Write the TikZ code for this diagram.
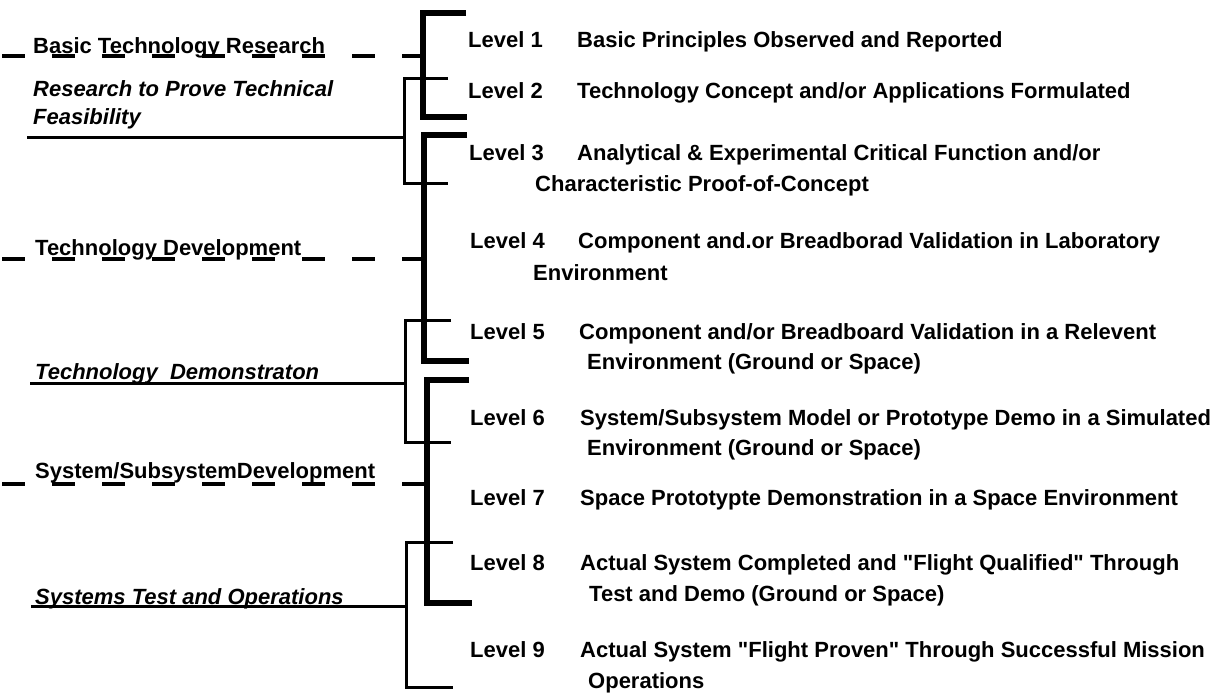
\documentclass[tikz,border=0pt]{standalone}
\usepackage{fontspec}
\setmainfont{Liberation Sans}[Ligatures=TeXOff]
\begin{document}
\begin{tikzpicture}[x=1pt,y=-1pt,
  txt/.style={font=\fontsize{22}{26}\selectfont\bfseries, inner sep=0pt, anchor=base west},
  itxt/.style={txt, font=\fontsize{22}{26}\selectfont\bfseries\itshape},
  heavy/.style={line width=6.5pt, line join=miter},
  light/.style={line width=3pt, line join=miter},
  dashline/.style={line width=4pt, dash pattern=on 23pt off 27pt}]
\useasboundingbox (0,0) rectangle (1226,697);

% ---- left labels ----
\node[txt] (basic) at (33,53) {Basic Technology Research};
\node[itxt] (prove1) at (33,96) {Research to Prove Technical};
\node[itxt] (prove2) at (33,124) {Feasibility};
\node[txt] (techdev) at (35,255) {Technology Development};
\node[itxt] (techdemo) at (35,379) {Technology\ \ Demonstraton};
\node[txt] (sysdev) at (35,478) {System/SubsystemDevelopment};
\node[itxt] (systest) at (35,604) {Systems Test and Operations};

% ---- bracket coordinates ----
\coordinate (a1) at (466,13);  \coordinate (a2) at (423,13);
\coordinate (a3) at (423,117); \coordinate (a4) at (467,117);
\coordinate (b1) at (448,78);  \coordinate (b2) at (404,78);
\coordinate (b3) at (404,183); \coordinate (b4) at (448,183);
\coordinate (bm) at (404,137); \coordinate (bs) at (27,137);
\coordinate (c1) at (467,135); \coordinate (c2) at (424,135);
\coordinate (c3) at (424,361); \coordinate (c4) at (469,361);
\coordinate (d1) at (451,320); \coordinate (d2) at (405,320);
\coordinate (d3) at (405,442); \coordinate (d4) at (451,442);
\coordinate (dm) at (405,383); \coordinate (ds) at (30,383);
\coordinate (e1) at (469,380); \coordinate (e2) at (427,380);
\coordinate (e3) at (427,603); \coordinate (e4) at (472,603);
\coordinate (f1) at (453,542); \coordinate (f2) at (406,542);
\coordinate (f3) at (406,687); \coordinate (f4) at (453,687);
\coordinate (fm) at (406,606); \coordinate (fs) at (31,606);
\coordinate (ga) at (2,56);  \coordinate (gae) at (423,56);
\coordinate (gc) at (2,259); \coordinate (gce) at (424,259);
\coordinate (ge) at (2,484); \coordinate (gee) at (427,484);

% ---- dashed phase lines ----
\draw[dashline] (ga) -- (gae);
\draw[dashline] (gc) -- (gce);
\draw[dashline] (ge) -- (gee);

% ---- thin brackets ----
\draw[light] (b1) -- (b2) -- (b3) -- (b4);
\draw[light] (bs) -- (bm);
\draw[light] (d1) -- (d2) -- (d3) -- (d4);
\draw[light] (ds) -- (dm);
\draw[light] (f1) -- (f2) -- (f3) -- (f4);
\draw[light] (fs) -- (fm);

% ---- heavy brackets ----
\draw[heavy] (a1) -- (a2) -- (a3) -- (a4);
\draw[heavy] (c1) -- (c2) -- (c3) -- (c4);
\draw[heavy] (e1) -- (e2) -- (e3) -- (e4);

% ---- levels ----
\node[txt] (l1) at (468,47) {Level 1};
\node[txt] (t1) at (577,47) {Basic Principles Observed and Reported};
\node[txt] (l2) at (468,98) {Level 2};
\node[txt] (t2) at (577,98) {Technology Concept and/or Applications Formulated};
\node[txt] (l3) at (469,160) {Level 3};
\node[txt] (t3) at (577,160) {Analytical \& Experimental Critical Function and/or};
\node[txt] (t3b) at (535,191) {Characteristic Proof-of-Concept};
\node[txt] (l4) at (470,248) {Level 4};
\node[txt] (t4) at (578,248) {Component and.or Breadborad Validation in Laboratory};
\node[txt] (t4b) at (533,280) {Environment};
\node[txt] (l5) at (470,339) {Level 5};
\node[txt] (t5) at (579,339) {Component and/or Breadboard Validation in a Relevent};
\node[txt] (t5b) at (587,369) {Environment (Ground or Space)};
\node[txt] (l6) at (470,425) {Level 6};
\node[txt] (t6) at (580,425) {System/Subsystem Model or Prototype Demo in a Simulated};
\node[txt] (t6b) at (587,455) {Environment (Ground or Space)};
\node[txt] (l7) at (470,505) {Level 7};
\node[txt] (t7) at (580,505) {Space Prototypte Demonstration in a Space Environment};
\node[txt] (l8) at (470,570) {Level 8};
\node[txt] (t8) at (580,570) {Actual System Completed and "Flight Qualified" Through};
\node[txt] (t8b) at (589,601) {Test and Demo (Ground or Space)};
\node[txt] (l9) at (470,657) {Level 9};
\node[txt] (t9) at (580,657) {Actual System "Flight Proven" Through Successful Mission};
\node[txt] (t9b) at (588,688) {Operations};
\end{tikzpicture}
\end{document}
